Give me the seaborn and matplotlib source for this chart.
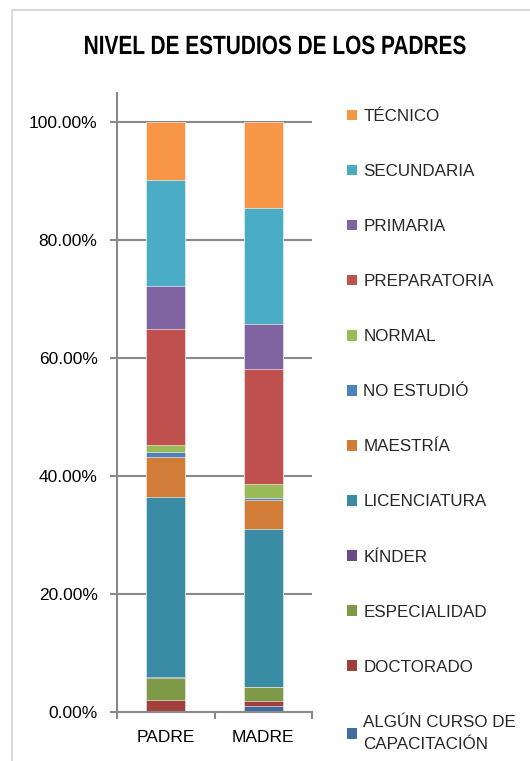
import numpy as np
import pandas as pd
import matplotlib
matplotlib.use("Agg")
import matplotlib.pyplot as plt
from matplotlib.patches import Patch, Rectangle
from matplotlib.ticker import FuncFormatter, FixedLocator
from matplotlib.patheffects import AbstractPathEffect
from matplotlib.transforms import Affine2D
import seaborn as sns

# ---------------- data (percent of each parent, bottom -> top) ----------------
parents = ["PADRE", "MADRE"]
levels = ["ALGÚN CURSO DE\nCAPACITACIÓN", "DOCTORADO", "ESPECIALIDAD", "KÍNDER",
          "LICENCIATURA", "MAESTRÍA", "NO ESTUDIÓ", "NORMAL",
          "PREPARATORIA", "PRIMARIA", "SECUNDARIA", "TÉCNICO"]
padre = [0.2, 1.9, 3.7, 0.1, 30.6, 6.8, 0.7, 1.3, 19.7, 7.2, 17.9, 9.9]
madre = [1.1, 0.7, 2.4, 0.1, 26.8, 4.8, 0.3, 2.5, 19.4, 7.6, 19.8, 14.5]
colors = ["#3F6CA3", "#A13F3D", "#7E9A47", "#654C86",
          "#3A8CA5", "#D17C37", "#4F81BD", "#9BBB59",
          "#C0504D", "#8064A2", "#4BACC6", "#F79646"]
yticks = [0.0, 0.2, 0.4, 0.6, 0.8, 1.0]
title = "NIVEL DE ESTUDIOS DE LOS PADRES"


class Condense(AbstractPathEffect):
    """Draw text glyphs horizontally condensed around a fixed x (display px)."""
    def __init__(self, cx, sx):
        super().__init__()
        self.cx, self.sx = cx, sx

    def draw_path(self, renderer, gc, tpath, affine, rgbFace=None):
        t = affine + Affine2D().translate(-self.cx, 0).scale(self.sx, 1).translate(self.cx, 0)
        renderer.draw_path(gc, tpath, t, rgbFace)


# ---------------- figure ----------------
sns.set_theme(style="white")
plt.rcParams["font.family"] = ["Liberation Sans", "DejaVu Sans"]

W, H = 530, 761
fig = plt.figure(figsize=(W / 100, H / 100), dpi=100)
ax = fig.add_axes([117 / W, 1 - 712 / H, 195 / W, (712 - 92.5) / H])

grid_c = "#898989"
ax.set_axisbelow(True)
ax.yaxis.grid(True, color=grid_c, linewidth=1.5)

vals = np.array([padre, madre]) / 100.0           # shape (2, 12)
cum = np.cumsum(vals, axis=1)
cum = cum / cum[:, -1:]                             # normalise to 100%

# draw stacked bars: overlay cumulative totals from top level down
for i in range(len(levels) - 1, -1, -1):
    df = pd.DataFrame({"parent": parents, "value": cum[:, i]})
    sns.barplot(data=df, x="parent", y="value", color=colors[i], saturation=1,
                width=0.4, edgecolor="white", linewidth=0.4, ax=ax, errorbar=None)

ax.set_xlim(-0.5, 1.5)
ax.set_ylim(0, 1.05)
ax.set_xlabel("")
ax.set_ylabel("")
ax.yaxis.set_major_locator(FixedLocator(yticks))
ax.yaxis.set_major_formatter(FuncFormatter(lambda v, p: f"{v * 100:.2f}%"))

for s in ["top", "right"]:
    ax.spines[s].set_visible(False)
for s in ["left", "bottom"]:
    ax.spines[s].set_color(grid_c)
    ax.spines[s].set_linewidth(1.5)

ax.tick_params(axis="y", which="major", left=True, length=5, width=1.5,
               color=grid_c, labelsize=12.5, labelcolor="black", pad=9)
ax.tick_params(axis="x", which="major", bottom=False, length=0,
               labelsize=12.5, labelcolor="black", pad=13)
ax.xaxis.set_minor_locator(FixedLocator([-0.5, 0.5, 1.5]))
ax.tick_params(axis="x", which="minor", bottom=True, length=5, width=1.5,
               color=grid_c)

# legend (top level first)
handles = [Patch(facecolor=colors[i], edgecolor="none", label=levels[i])
           for i in range(len(levels) - 1, -1, -1)]
leg = fig.legend(handles=handles, loc="upper left",
                 bbox_to_anchor=(347 / W, 1 - 109 / H), frameon=False,
                 fontsize=12.25, handlelength=0.58, handleheight=0.58,
                 handletextpad=0.38, labelspacing=2.355, borderpad=0, borderaxespad=0)
leg.get_texts()[-1].set_linespacing(1.6)

# title (Arial-Narrow-like: condensed glyphs)
fig.text(275 / W, 1 - 47 / H, title, ha="center", va="center",
         fontsize=19, fontweight="bold", color="black",
         path_effects=[Condense(275 * fig.dpi / 100, 0.79)])

# light chart-area border
fig.add_artist(Rectangle((12 / W, -0.1), 1.2, (1 - 10 / H) + 0.1,
                         transform=fig.transFigure, fill=False,
                         edgecolor="#D9D9D9", linewidth=1.5))

fig.savefig("out.png", dpi=100)
